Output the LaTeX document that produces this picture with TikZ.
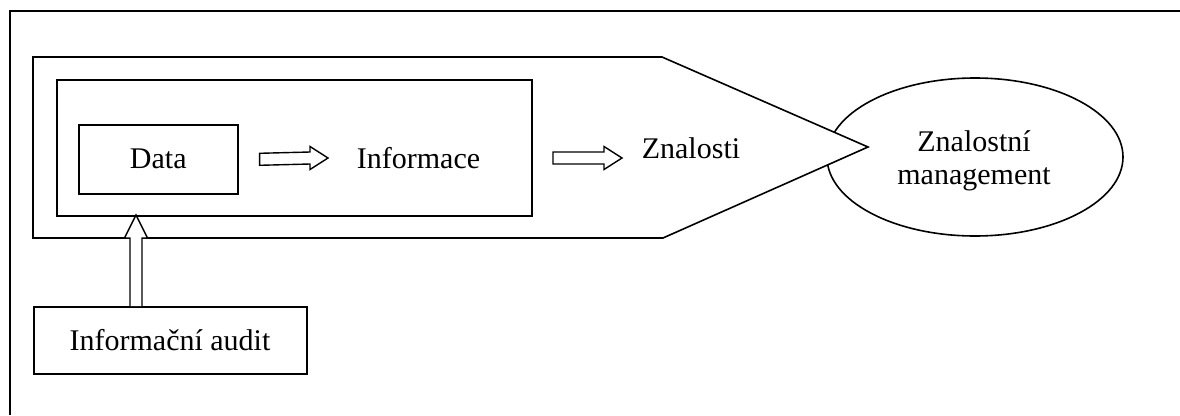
\documentclass[tikz,border=0pt]{standalone}
\usepackage{fontspec}
\setmainfont{Liberation Serif}
\usetikzlibrary{calc,shapes.geometric}
\begin{document}
\begin{tikzpicture}[x=1pt,y=-1pt,line width=1.6pt,
  boxnode/.style={draw,rectangle,inner sep=0pt,anchor=north west},
  lbl/.style={font=\fontsize{30}{33}\selectfont,inner sep=0pt},
  blockarrow/.style={draw,fill=white,line width=1.4pt,line join=miter}]
\useasboundingbox (0,0) rectangle (1180,415);
% outer frame (only top and left edges visible)
\draw (10,415) -- (10,11) -- (1180,11);
% ellipse
\node[draw,ellipse,minimum width=296,minimum height=158,inner sep=0pt,align=center,
      font=\fontsize{30}{33}\selectfont] (km) at (975,157) {};
\node[lbl,align=center] (kmt) at (974,161) {Znalostní\\management};
% pentagon
\draw[fill=white] (33,57) -- (662,57) -- (868,147) -- (663,238) -- (33,238) -- cycle;
% inner rectangle
\node[boxnode,minimum width=475,minimum height=136] (inner) at (56,79) {};
% data box
\node[boxnode,minimum width=159,minimum height=69] (data) at (78,124) {};
\node[lbl] (datat) at (data.center) {Data};
% texts
\node[lbl] (info) at (418.5,158) {Informace};
\node[lbl] (zn) at (691,148) {Znalosti};
% audit box
\node[boxnode,minimum width=273,minimum height=67] (audit) at (33,306) {};
\node[lbl] (auditt) at (170,340) {Informační audit};
% arrow coordinates
\coordinate (a1s) at ($(data.east)+(21,0)$);
\coordinate (a1e) at (328,158);
\coordinate (a2s) at (553,158);
\coordinate (a2e) at (622,158);
\coordinate (vs) at (136,306);
\coordinate (ve) at (136,215);
% horizontal block arrows
\draw[blockarrow] ($(a1s)+(0,-6)$) -- ($(a1e)+(-18,-6)$) -- ($(a1e)+(-18,-11.5)$) -- (a1e)
  -- ($(a1e)+(-18,11.5)$) -- ($(a1e)+(-18,6)$) -- ($(a1s)+(0,6)$) -- cycle;
\draw[blockarrow] ($(a2s)+(0,-6)$) -- ($(a2e)+(-18,-6)$) -- ($(a2e)+(-18,-11.5)$) -- (a2e)
  -- ($(a2e)+(-18,11.5)$) -- ($(a2e)+(-18,6)$) -- ($(a2s)+(0,6)$) -- cycle;
% vertical block arrow
\draw[blockarrow] ($(vs)+(-6,0)$) -- ($(ve)+(-6,23)$) -- ($(ve)+(-11.5,23)$) -- (ve)
  -- ($(ve)+(11.5,23)$) -- ($(ve)+(6,23)$) -- ($(vs)+(6,0)$);
\end{tikzpicture}
\end{document}
